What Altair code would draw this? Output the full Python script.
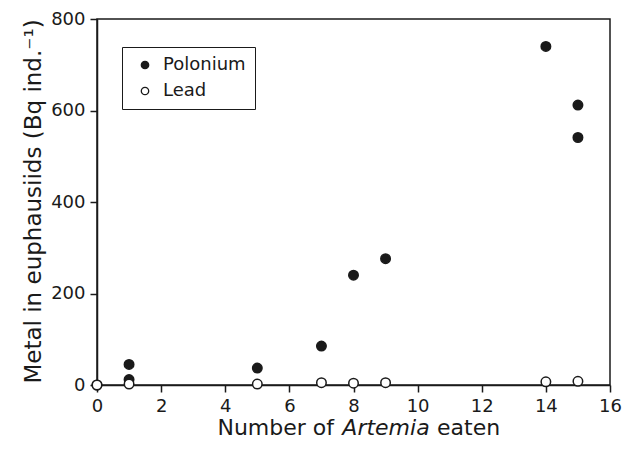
import altair as alt
import pandas as pd

# Data
pol_x = [0, 1, 1, 5, 7, 8, 9, 14, 15, 15]
pol_y = [0, 45, 12, 37, 85, 240, 276, 740, 612, 541]
lead_x = [0, 1, 5, 7, 8, 9, 14, 15]
lead_y = [0, 2, 2, 5, 4, 5, 7, 8]
series_names = ["Polonium", "Lead"]
x_ticks = [0, 2, 4, 6, 8, 10, 12, 14, 16]
y_ticks = [0, 200, 400, 600, 800]

df = pd.concat([
    pd.DataFrame({"x": pol_x, "y": pol_y, "series": series_names[0], "ord": 0}),
    pd.DataFrame({"x": lead_x, "y": lead_y, "series": series_names[1], "ord": 1}),
], ignore_index=True)

FONT = "DejaVu Sans"
INK = "#1a1a1a"

points = alt.Chart(df).mark_point(
    shape="circle", filled=True, size=90, strokeWidth=1.5, clip=False, opacity=1
).encode(
    x=alt.X("x:Q", scale=alt.Scale(domain=[0, 16], nice=False),
            axis=alt.Axis(values=x_ticks, title=None)),
    y=alt.Y("y:Q", scale=alt.Scale(domain=[0, 800], nice=False),
            axis=alt.Axis(values=y_ticks, title="Metal in euphausiids (Bq ind.⁻¹)",
                          titleX=-64, titleY=182, titleBaseline="middle",
                          titleAlign="center", titleFontSize=23)),
    fill=alt.Fill("series:N",
                  scale=alt.Scale(domain=series_names, range=[INK, "white"]),
                  legend=alt.Legend(title=None, orient="none", legendX=25, legendY=28,
                                    strokeColor=INK, padding=9, rowPadding=8,
                                    symbolOffset=5, labelOffset=9,
                                    symbolSize=55, symbolStrokeWidth=1.3,
                                    symbolStrokeColor=INK, symbolType="circle",
                                    labelFontSize=18, labelFont=FONT, labelColor=INK)),
    stroke=alt.value(INK),
    order=alt.Order("ord:Q"),
)

title_y = 416
t1 = alt.Chart(pd.DataFrame({"t": ["Number of"]})).mark_text(
    align="right", baseline="alphabetic", font=FONT, fontSize=22, color=INK
).encode(x=alt.value(237), y=alt.value(title_y), text="t:N")
t2 = alt.Chart(pd.DataFrame({"t": ["Artemia"]})).mark_text(
    align="center", baseline="alphabetic", font=FONT, fontSize=22, fontStyle="italic", color=INK
).encode(x=alt.value(289), y=alt.value(title_y), text="t:N")
t3 = alt.Chart(pd.DataFrame({"t": ["eaten"]})).mark_text(
    align="left", baseline="alphabetic", font=FONT, fontSize=22, color=INK
).encode(x=alt.value(340), y=alt.value(title_y), text="t:N")

chart = alt.layer(points, t1, t2, t3).properties(
    width=513, height=366,
    autosize=alt.AutoSizeParams(type="none"),
    padding={"left": 89, "top": 11, "right": 12, "bottom": 57},
).configure_view(
    stroke=INK, strokeWidth=1.5
).configure_axis(
    domainColor=INK, domainWidth=1.5, tickColor=INK, tickWidth=1.5, tickSize=7,
    labelFont=FONT, labelFontSize=18, labelColor=INK, labelPadding=5,
    titleFont=FONT, titleFontSize=21, titleColor=INK, titleFontWeight="normal",
    grid=False,
).configure_axisX(labelFlush=False).configure_axisY(labelFlush=False)

chart.save("out.html", embed_options={"renderer": "svg", "actions": False})
